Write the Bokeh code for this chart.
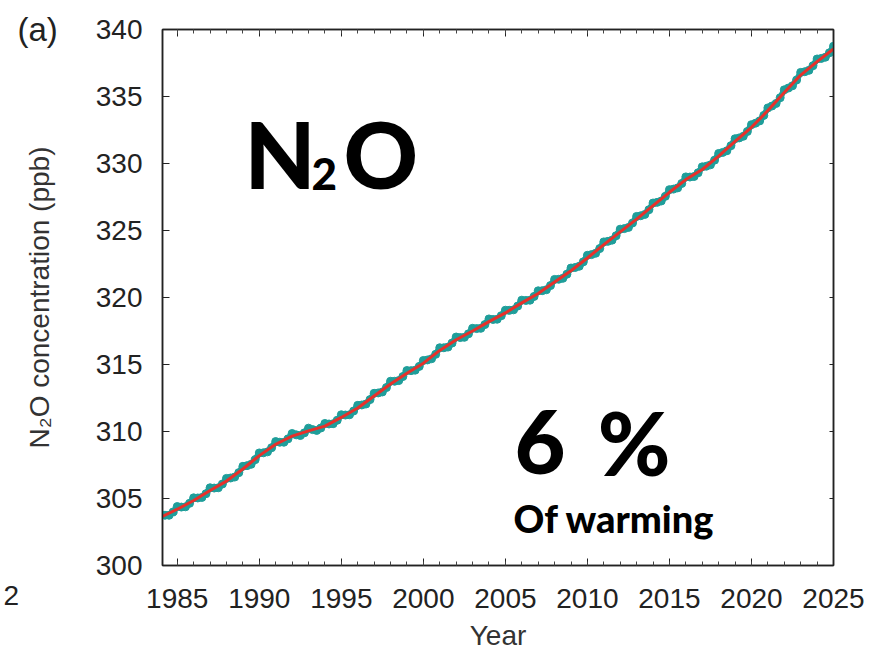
import numpy as np
from bokeh.plotting import figure
from bokeh.models import Range1d, LinearAxis, SingleIntervalTicker, Label, ColumnDataSource
from bokeh.embed import file_html
from bokeh.resources import INLINE

# Deseasonalised N2O trend (ppb) on 1 January of each year
trend_years = list(range(1984, 2026))
trend_ppb = [
    303.60, 304.20, 304.85, 305.60, 306.30, 307.20, 308.20, 309.05, 309.65, 310.05,
    310.40, 311.05, 311.75, 312.65, 313.55, 314.35, 315.10, 316.05, 316.85, 317.50,
    318.20, 318.85, 319.60, 320.30, 321.15, 322.00, 322.95, 323.95, 324.90, 325.85,
    326.85, 327.85, 328.80, 329.55, 330.55, 331.65, 332.70, 333.95, 335.30, 336.60,
    337.60, 338.55,
]

# Quarterly mean N2O (ppb), first value at 1984.0, one value every 0.25 yr
quarter_start = 1984.0
quarterly_ppb = [
    303.80, 303.75, 303.75, 304.00,
    304.40, 304.36, 304.38, 304.64,
    305.05, 305.04, 305.08, 305.36,
    305.80, 305.78, 305.80, 306.08,
    306.50, 306.53, 306.60, 306.93,
    307.40, 307.45, 307.55, 307.90,
    308.40, 308.41, 308.48, 308.79,
    309.25, 309.20, 309.20, 309.45,
    309.85, 309.75, 309.70, 309.90,
    310.25, 310.14, 310.08, 310.26,
    310.60, 310.56, 310.58, 310.84,
    311.25, 311.23, 311.25, 311.53,
    311.95, 311.98, 312.05, 312.38,
    312.85, 312.88, 312.95, 313.28,
    313.75, 313.75, 313.80, 314.10,
    314.55, 314.54, 314.58, 314.86,
    315.30, 315.34, 315.43, 315.76,
    316.25, 316.25, 316.30, 316.60,
    317.05, 317.01, 317.03, 317.29,
    317.70, 317.68, 317.70, 317.98,
    318.40, 318.36, 318.38, 318.64,
    319.05, 319.04, 319.08, 319.36,
    319.80, 319.78, 319.80, 320.08,
    320.50, 320.51, 320.58, 320.89,
    321.35, 321.36, 321.43, 321.74,
    322.20, 322.24, 322.33, 322.66,
    323.15, 323.20, 323.30, 323.65,
    324.15, 324.19, 324.28, 324.61,
    325.10, 325.14, 325.23, 325.56,
    326.05, 326.10, 326.20, 326.55,
    327.05, 327.10, 327.20, 327.55,
    328.05, 328.09, 328.18, 328.51,
    329.00, 328.99, 329.03, 329.31,
    329.75, 329.80, 329.90, 330.25,
    330.75, 330.83, 330.95, 331.33,
    331.85, 331.91, 332.03, 332.39,
    332.90, 333.01, 333.18, 333.59,
    334.15, 334.29, 334.48, 334.91,
    335.50, 335.63, 335.80, 336.23,
    336.80, 336.85, 336.95, 337.30,
    337.80, 337.84, 337.93, 338.26,
    338.75,
]
quarter_time = quarter_start + 0.25 * np.arange(len(quarterly_ppb))

TEAL = "#1f9e9a"
RED = "#e8302a"
TXT = "#222222"
FONT = "Liberation Sans"
HEAVY = "Lato Black"

p = figure(
    frame_width=671, frame_height=536,
    min_border_left=162, min_border_right=44, min_border_top=29, min_border_bottom=87,
    x_range=Range1d(1984.1, 2025.0), y_range=Range1d(300, 340),
    output_backend="svg", toolbar_location=None,
    x_axis_type=None, y_axis_type=None,
)
p.background_fill_color = "white"
p.border_fill_color = "white"
p.outline_line_color = "#222222"
p.outline_line_width = 1.5

xt = SingleIntervalTicker(interval=5, num_minor_ticks=5)
yt = SingleIntervalTicker(interval=5, num_minor_ticks=0)

def style_axis(ax, show_labels, minor):
    ax.axis_line_color = "#222222"
    ax.axis_line_width = 1.5
    ax.major_tick_in = 7
    ax.major_tick_out = 0
    ax.major_tick_line_color = "#222222"
    ax.major_tick_line_width = 1
    if minor:
        ax.minor_tick_in = 4
        ax.minor_tick_out = 0
        ax.minor_tick_line_color = "#444444"
    else:
        ax.minor_tick_line_color = None
    if show_labels:
        ax.major_label_text_font = FONT
        ax.major_label_text_font_size = "28px"
        ax.major_label_text_color = TXT
        ax.axis_label_text_font = FONT
        ax.axis_label_text_font_size = "28px"
        ax.axis_label_text_font_style = "normal"
        ax.axis_label_text_color = "#333333"
    else:
        ax.major_label_standoff = 0
        ax.major_label_text_font_size = "0px"
        ax.major_label_text_color = None

xb = LinearAxis(ticker=xt, axis_label="Year")
style_axis(xb, True, True)
xb.major_label_standoff = 23
xb.axis_label_standoff = 9
p.add_layout(xb, "below")

xa = LinearAxis(ticker=xt)
style_axis(xa, False, True)
p.add_layout(xa, "above")

yl = LinearAxis(ticker=yt, axis_label="N₂O concentration (ppb)")
style_axis(yl, True, False)
yl.major_label_standoff = 20
yl.axis_label_standoff = 38
p.add_layout(yl, "left")

yr = LinearAxis(ticker=yt)
style_axis(yr, False, False)
yr.major_tick_in = 4
p.add_layout(yr, "right")

p.xgrid.ticker = xt
p.ygrid.ticker = yt
for g in (p.xgrid, p.ygrid):
    g.grid_line_color = "#c4c4c4"
    g.grid_line_dash = "1 2"
    g.grid_line_width = 1

src_q = ColumnDataSource(dict(t=quarter_time, v=quarterly_ppb))
src_t = ColumnDataSource(dict(t=trend_years, v=trend_ppb))

p.line("t", "v", source=src_q, line_color=TEAL, line_width=6, line_join="round")
p.scatter("t", "v", source=src_q, size=8, fill_color=TEAL, line_color=TEAL)
p.line("t", "v", source=src_t, line_color=RED, line_width=3)

def make_label(x, y, text, size, font, style="bold", color="black", units="data"):
    return Label(
        x=x, y=y, x_units=units, y_units=units, text=text, text_font=font,
        text_font_size=size, text_font_style=style, text_color=color,
        text_baseline="alphabetic", text_align="left",
    )

# big chemical formula, subscript drawn as a smaller digit on the same baseline
p.add_layout(make_label(1989.10, 330.75, "N", "92px", HEAVY))
p.add_layout(make_label(1993.18, 329.25, "2", "44px", HEAVY))
p.add_layout(make_label(1995.13, 330.75, "O", "92px", HEAVY))

p.add_layout(make_label(2005.56, 309.19, "6", "88px", HEAVY))
p.add_layout(make_label(2010.63, 309.19, "%", "88px", HEAVY))
p.add_layout(make_label(2005.50, 303.55, "Of warming", "38px", HEAVY))

# panel letter and neighbouring-panel fragment live in the side panels
p.add_layout(make_label(-816, 536.5, "(a)", "33px", FONT, style="normal", color=TXT,
                        units="screen"), "right")
p.add_layout(make_label(-1, -30, "2", "28px", FONT, style="normal", color=TXT,
                        units="screen"), "left")

open("out.html", "w").write(file_html(p, INLINE))
